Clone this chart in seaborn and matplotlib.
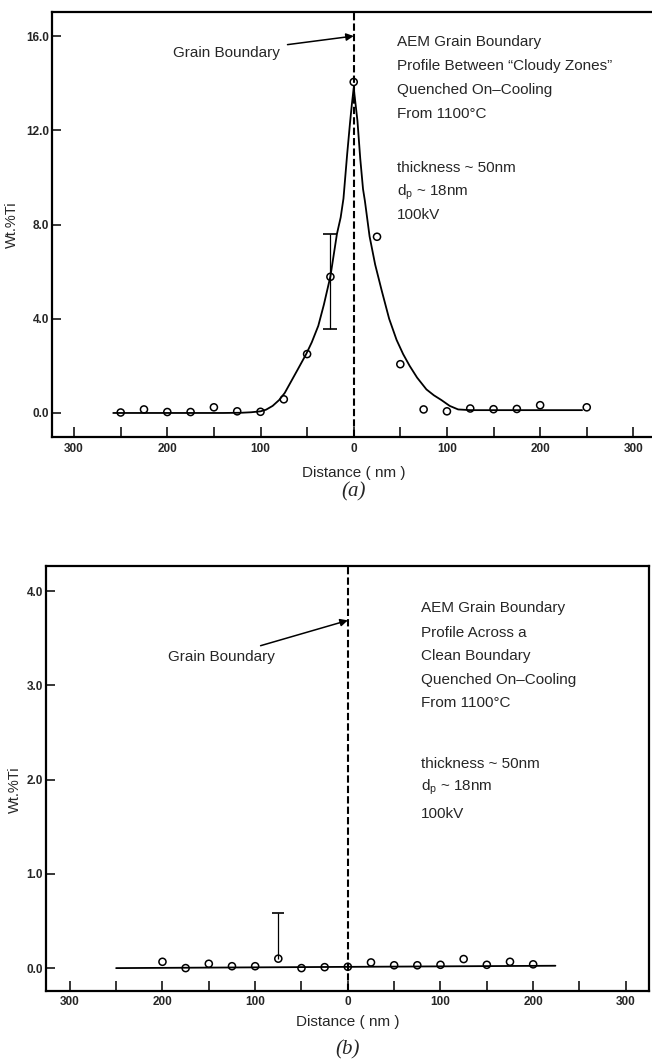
import numpy as np
import pandas as pd
import matplotlib
matplotlib.use("Agg")
import matplotlib.pyplot as plt
import seaborn as sns

sns.set_theme(style="ticks")
plt.rcParams['font.family'] = ['Liberation Sans', 'DejaVu Sans']
plt.rcParams['mathtext.fontset'] = 'custom'
plt.rcParams['mathtext.rm'] = 'Liberation Sans'

# ---- panel (a): cloudy-zone boundary ----
a_x = [-250, -225, -200, -175, -150, -125, -100, -75, -50, -25, 0,
       25, 50, 75, 100, 125, 150, 175, 200, 250]
a_y = [0.02, 0.15, 0.04, 0.04, 0.24, 0.07, 0.05, 0.58, 2.5, 5.78, 14.05,
       7.48, 2.07, 0.15, 0.07, 0.19, 0.16, 0.17, 0.33, 0.24]
a_err_x = [-25]
a_err_y = [5.78]
a_err_lo = [2.22]
a_err_hi = [1.80]

# fitted profile
a_fit_x = [-258, -140, -120, -110, -100, -94, -87, -80, -74, -67, -60, -51,
           -45, -38, -32, -25, -18, -14, -11, -7, -4, -2, 0,
           2, 4, 7, 10, 12, 17, 23, 30, 38, 46, 53, 60, 68, 78, 86, 94,
           103, 112, 125, 245]
a_fit_y = [0.0, 0.0, 0.01, 0.03, 0.07, 0.14, 0.3, 0.55, 0.85, 1.35, 1.85, 2.5,
           3.0, 3.7, 4.6, 5.8, 7.6, 8.3, 9.1, 11.0, 12.3, 13.1, 13.8,
           13.1, 12.4, 10.8, 9.5, 9.0, 7.5, 6.3, 5.2, 4.0, 3.1, 2.5, 2.0, 1.5,
           1.0, 0.75, 0.55, 0.3, 0.15, 0.12, 0.12]

# ---- panel (b): clean boundary ----
b_x = [-200, -175, -150, -125, -100, -75, -50, -25, 0, 25, 50, 75, 100,
       125, 150, 175, 200]
b_y = [0.067, 0.0, 0.046, 0.02, 0.02, 0.10, 0.0, 0.01, 0.014, 0.06, 0.03,
       0.03, 0.035, 0.096, 0.035, 0.067, 0.04]
b_err_x = [-75]
b_err_y = [0.10]
b_err_hi = [0.49]
b_fit_x = [-250, 224]
b_fit_y = [0.0, 0.025]

x_ticks = list(range(-300, 301, 50))
x_ticklabels = ['300', '', '200', '', '100', '', '0', '', '100', '', '200', '', '300']
a_yticks = [0, 4, 8, 12, 16]
b_yticks = [0, 1, 2, 3, 4]

a_text = ['AEM Grain Boundary', 'Profile Between \u201cCloudy Zones\u201d',
          'Quenched On\u2013Cooling', 'From 1100\u00b0C', '',
          'thickness ~ 50nm', r'd$_\mathregular{p}$ ~ 18nm', '100kV']
b_text = ['AEM Grain Boundary', 'Profile Across a', 'Clean Boundary',
          'Quenched On\u2013Cooling', 'From 1100\u00b0C', '',
          'thickness ~ 50nm', r'd$_\mathregular{p}$ ~ 18nm', '100kV']

fig = plt.figure(figsize=(6.52, 10.63), dpi=100)
ax1 = fig.add_axes([0.0793, 0.5889, 0.9207, 0.3998])
ax2 = fig.add_axes([0.0701, 0.0680, 0.9253, 0.3998])


def style_axes(ax, xlim, ylim, yticks):
    ax.set_xlim(*xlim)
    ax.set_ylim(*ylim)
    ax.set_xticks(x_ticks)
    ax.set_xticklabels(x_ticklabels)
    ax.set_yticks(yticks)
    ax.set_yticklabels([f'{v:.1f}' for v in yticks])
    ax.tick_params(axis='x', direction='in', length=7.5, width=1.1, pad=4,
                   labelsize=8.5, color='black')
    ax.tick_params(axis='y', direction='in', length=6.5, width=1.1, pad=2,
                   labelsize=8.5, color='black')
    for lab in ax.get_xticklabels() + ax.get_yticklabels():
        lab.set_fontweight('bold')
    for sp in ax.spines.values():
        sp.set_linewidth(1.6)
        sp.set_color('black')
    ax.set_facecolor('white')


def draw_panel(ax, px, py, fx, fy):
    fit = pd.DataFrame({'x': fx, 'y': fy})
    pts = pd.DataFrame({'x': px, 'y': py})
    sns.lineplot(data=fit, x='x', y='y', sort=False, estimator=None,
                 color='black', lw=1.3, ax=ax)
    sns.scatterplot(data=pts, x='x', y='y', marker='o', s=26, color='black',
                    facecolor='none', edgecolor='black', linewidth=1.1,
                    ax=ax, zorder=4)


# panel (a)
draw_panel(ax1, a_x, a_y, a_fit_x, a_fit_y)
ax1.errorbar(a_err_x, a_err_y, yerr=[a_err_lo, a_err_hi], fmt='none',
             ecolor='black', elinewidth=0.9, capsize=4.7, capthick=1.2)
ax1.axvline(0, color='black', lw=1.5, dashes=(3.5, 1.5))
style_axes(ax1, (-324, 320), (-1.02, 17.02), a_yticks)
ax1.spines['right'].set_visible(False)
ax1.annotate('Grain Boundary', xy=(0, 16.0), xytext=(-79, 15.3),
             ha='right', va='center', fontsize=11,
             arrowprops=dict(arrowstyle='-|>', color='black', lw=1.1,
                             mutation_scale=11, shrinkA=3, shrinkB=0))
a_lines_y = [15.75, 14.73, 13.71, 12.69, 11.5, 10.40, 9.38, 8.40]
for t, yy in zip(a_text, a_lines_y):
    ax1.text(46.8, yy, t, ha='left', va='center', fontsize=11)

# panel (b)
draw_panel(ax2, b_x, b_y, b_fit_x, b_fit_y)
eb = ax2.errorbar(b_err_x, b_err_y, yerr=[[0], b_err_hi], fmt='none',
                  ecolor='black', elinewidth=0.9, capsize=4.2, capthick=1.2)
for cl in eb[1]:
    if np.allclose(cl.get_ydata(), b_err_y):
        cl.set_visible(False)
ax2.axvline(0, color='black', lw=1.5, dashes=(3.5, 1.5))
style_axes(ax2, (-326, 325), (-0.24, 4.27), b_yticks)
ax2.annotate('Grain Boundary', xy=(0, 3.69), xytext=(-79, 3.30),
             ha='right', va='center', fontsize=11,
             arrowprops=dict(arrowstyle='-|>', color='black', lw=1.1,
                             mutation_scale=11, shrinkA=3, shrinkB=0))
b_lines_y = [3.82, 3.56, 3.31, 3.06, 2.81, 2.5, 2.17, 1.92, 1.64]
for t, yy in zip(b_text, b_lines_y):
    ax2.text(78.8, yy, t, ha='left', va='center', fontsize=11)

# axis labels
for ax, lx, ly, xly in [(ax1, -0.054, 0.5, -0.068), (ax2, -0.039, 0.472, -0.057)]:
    ax.set_xlabel('Distance ( nm )', fontsize=11)
    ax.set_ylabel('Wt.%Ti', fontsize=10.5)
    ax.xaxis.set_label_coords(0.5036 if ax is ax1 else 0.501, xly)
    ax.yaxis.set_label_coords(lx, ly)

fig.text(354 / 652, 1 - 492 / 1063, '(a)', ha='center', va='center',
         fontsize=15, style='italic', family='Liberation Serif')
fig.text(348 / 652, 1 - 1050 / 1063, '(b)', ha='center', va='center',
         fontsize=15, style='italic', family='Liberation Serif')

fig.savefig('out.png', dpi=100, facecolor='white')
